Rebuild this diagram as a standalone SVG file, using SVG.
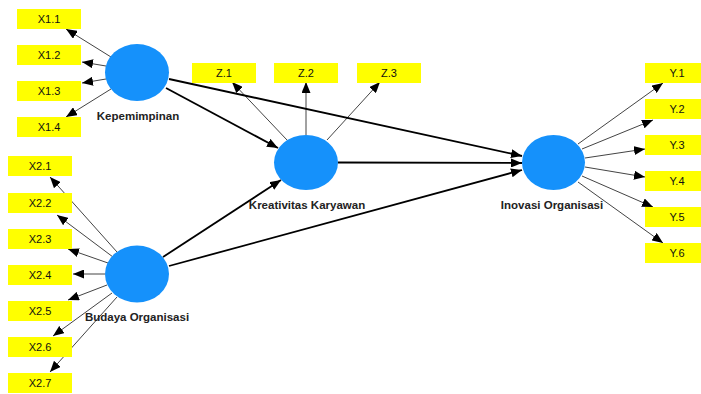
<svg xmlns="http://www.w3.org/2000/svg" width="701" height="394" viewBox="0 0 701 394">
<style>
.ind rect{fill:#ffff00}
.ind text{font-family:"Liberation Sans",Arial,sans-serif;font-size:11px;fill:#111;text-anchor:middle}
.lv ellipse{fill:#1591fb}
.lv text{font-family:"Liberation Sans",Arial,sans-serif;font-size:11.5px;font-weight:bold;fill:#222;text-anchor:middle}
.thin{stroke:#444;stroke-width:1;fill:none;marker-end:url(#ah)}
.thick{stroke:#000;stroke-width:1.8;fill:none;marker-end:url(#ah)}
</style>
<defs>
<marker id="ah" markerUnits="userSpaceOnUse" markerWidth="11" markerHeight="9" refX="11" refY="4.5" orient="auto">
<path d="M0,0 L11,4.5 L0,9 z" fill="#000"/>
</marker>
</defs>
<rect width="701" height="394" fill="#fff"/>
<g id="connectors">
<line class="thin" x1="111" y1="57" x2="66" y2="29"/>
<line class="thin" x1="106" y1="66" x2="82" y2="62"/>
<line class="thin" x1="106" y1="79" x2="82" y2="83"/>
<line class="thin" x1="111" y1="89" x2="66" y2="117"/>
<line class="thin" x1="117" y1="252" x2="50" y2="177"/>
<line class="thin" x1="113" y1="257" x2="57" y2="215"/>
<line class="thin" x1="108" y1="263" x2="68" y2="249"/>
<line class="thin" x1="105" y1="274" x2="73" y2="274"/>
<line class="thin" x1="107" y1="285" x2="68" y2="300"/>
<line class="thin" x1="112" y1="293" x2="53" y2="336"/>
<line class="thin" x1="117" y1="297" x2="50" y2="372"/>
<line class="thin" x1="287" y1="140" x2="232" y2="82"/>
<line class="thin" x1="306" y1="135" x2="306" y2="82"/>
<line class="thin" x1="327" y1="140" x2="380" y2="82"/>
<line class="thin" x1="578" y1="144" x2="663" y2="83"/>
<line class="thin" x1="582" y1="149" x2="653" y2="120"/>
<line class="thin" x1="585" y1="158" x2="645" y2="149"/>
<line class="thin" x1="585" y1="167" x2="645" y2="177"/>
<line class="thin" x1="582" y1="176" x2="653" y2="207"/>
<line class="thin" x1="578" y1="182" x2="663" y2="243"/>
<line class="thick" x1="166" y1="88" x2="278" y2="148"/>
<line class="thick" x1="169" y1="79" x2="522" y2="156"/>
<line class="thick" x1="338" y1="162.5" x2="522" y2="163"/>
<line class="thick" x1="163" y1="257" x2="281" y2="180"/>
<line class="thick" x1="169" y1="266" x2="522" y2="170"/>
</g>
<g id="X1.1" class="ind"><rect x="17" y="9" width="64" height="20"/><text x="49" y="23">X1.1</text></g>
<g id="X1.2" class="ind"><rect x="17" y="45" width="64" height="20"/><text x="49" y="59">X1.2</text></g>
<g id="X1.3" class="ind"><rect x="17" y="81" width="64" height="20"/><text x="49" y="95">X1.3</text></g>
<g id="X1.4" class="ind"><rect x="17" y="117" width="64" height="20"/><text x="49" y="131">X1.4</text></g>
<g id="X2.1" class="ind"><rect x="8" y="156" width="64" height="20"/><text x="40" y="170">X2.1</text></g>
<g id="X2.2" class="ind"><rect x="8" y="193" width="64" height="20"/><text x="40" y="207">X2.2</text></g>
<g id="X2.3" class="ind"><rect x="8" y="229" width="64" height="20"/><text x="40" y="243">X2.3</text></g>
<g id="X2.4" class="ind"><rect x="8" y="265" width="64" height="20"/><text x="40" y="279">X2.4</text></g>
<g id="X2.5" class="ind"><rect x="8" y="301" width="64" height="20"/><text x="40" y="315">X2.5</text></g>
<g id="X2.6" class="ind"><rect x="8" y="337" width="64" height="20"/><text x="40" y="351">X2.6</text></g>
<g id="X2.7" class="ind"><rect x="8" y="373" width="64" height="20"/><text x="40" y="387">X2.7</text></g>
<g id="Z.1" class="ind"><rect x="192" y="63" width="64" height="20"/><text x="224" y="77">Z.1</text></g>
<g id="Z.2" class="ind"><rect x="274" y="63" width="64" height="20"/><text x="306" y="77">Z.2</text></g>
<g id="Z.3" class="ind"><rect x="357" y="63" width="64" height="20"/><text x="389" y="77">Z.3</text></g>
<g id="Y.1" class="ind"><rect x="645" y="63" width="64" height="20"/><text x="677" y="77">Y.1</text></g>
<g id="Y.2" class="ind"><rect x="645" y="99" width="64" height="20"/><text x="677" y="113">Y.2</text></g>
<g id="Y.3" class="ind"><rect x="645" y="135" width="64" height="20"/><text x="677" y="149">Y.3</text></g>
<g id="Y.4" class="ind"><rect x="645" y="171" width="64" height="20"/><text x="677" y="185">Y.4</text></g>
<g id="Y.5" class="ind"><rect x="645" y="207" width="64" height="20"/><text x="677" y="221">Y.5</text></g>
<g id="Y.6" class="ind"><rect x="645" y="243" width="64" height="20"/><text x="677" y="257">Y.6</text></g>
<g id="Kepemimpinan" class="lv"><ellipse cx="137" cy="72.5" rx="32" ry="28.5"/><text x="138" y="120">Kepemimpinan</text></g>
<g id="BudayaOrganisasi" class="lv"><ellipse cx="137" cy="274" rx="32" ry="28.5"/><text x="137" y="321">Budaya Organisasi</text></g>
<g id="KreativitasKaryawan" class="lv"><ellipse cx="306" cy="162.5" rx="32" ry="27.5"/><text x="307" y="209">Kreativitas Karyawan</text></g>
<g id="InovasiOrganisasi" class="lv"><ellipse cx="553.5" cy="162.5" rx="31.5" ry="27.5"/><text x="552" y="209">Inovasi Organisasi</text></g>
</svg>
